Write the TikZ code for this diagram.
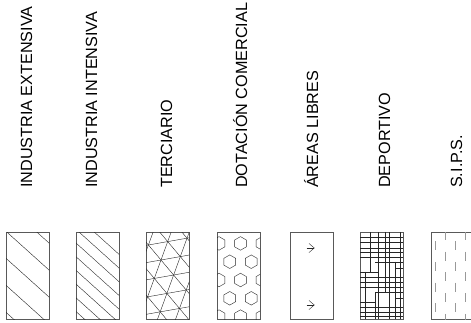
\documentclass[tikz,border=0pt]{standalone}
\usepackage{fontspec}
\setmainfont{Liberation Sans}
\usetikzlibrary{positioning}

\begin{document}
\begin{tikzpicture}[x=1pt, y=-1pt,
    legendbox/.style={rectangle, draw=black!65, line width=0.5pt, minimum width=43pt, minimum height=87pt, inner sep=0pt, anchor=north west},
    legendlabel/.style={rotate=90, anchor=base west, inner sep=0pt, font=\fontsize{16.2}{18}\selectfont},
    hatch/.style={draw=black!85, line width=0.4pt},
    dashmark/.style={draw=black!40, line width=0.6pt}]
    \useasboundingbox (0,0) rectangle (471,322);

    % legend boxes
    \node [legendbox] (ext)  at (6,232) {};
    \node [legendbox] (int)  at (76,232) {};
    \node [legendbox] (ter)  at (146,232) {};
    \node [legendbox] (com)  at (217,232) {};
    \node [legendbox] (lib)  at (290,232) {};
    \node [legendbox] (dep)  at (360,232) {};
    \node [legendbox] (sips) at (431,232) {};

    % labels
    \node [legendlabel] (ext-l)  at (32,188)  {INDUSTRIA EXTENSIVA};
    \node [legendlabel] (int-l)  at (97,188)  {INDUSTRIA INTENSIVA};
    \node [legendlabel] (ter-l)  at (172,188) {TERCIARIO};
    \node [legendlabel] (com-l)  at (247,188) {DOTACIÓN COMERCIAL};
    \node [legendlabel] (lib-l)  at (318,188) {ÁREAS LIBRES};
    \node [legendlabel] (dep-l)  at (390,188) {DEPORTIVO};
    \node [legendlabel] (sips-l) at (462,188) {S.I.P.S.};

    % industria extensiva
    \begin{scope}[shift={(ext.north west)}]
        \clip (0,0) rectangle (43,87);
        \foreach \k in {-2,...,3}
            \draw [hatch] (0,26.3+27*\k) -- ++(60,54);
    \end{scope}

    % industria intensiva
    \begin{scope}[shift={(int.north west)}]
        \clip (0,0) rectangle (43,87);
        \foreach \k in {-3,...,5}
            \draw [hatch] (0,24.7+13.7*\k) -- ++(60,54);
    \end{scope}

    % terciario
    \begin{scope}[shift={(ter.north west)}]
        \clip (0,0) rectangle (43,87);
        \foreach \m in {-6,...,6} {
            \draw [hatch] (15,28) ++(-70:19.6*\m) ++(-10:-100) -- ++(-10:200);
            \draw [hatch] (15,28) ++(-10:19.6*\m) ++(-70:-100) -- ++(-70:200);
            \draw [hatch] (15,28) ++(-10:19.6*\m) ++(-130:-100) -- ++(-130:200);
        }
    \end{scope}

    % dotacion comercial
    \begin{scope}[shift={(com.north west)}]
        \clip (0,0) rectangle (43,87);
        \foreach \r in {0,...,5}
            \foreach \c in {-1,...,2} {
                \pgfmathsetmacro\hx{2+10.75*mod(\r+1,2)+21.5*\c}
                \pgfmathsetmacro\hy{-6.9+18.3*\r}
                \draw [hatch] (\hx,\hy) +(90:6.8) -- +(150:6.8) -- +(210:6.8)
                    -- +(270:6.8) -- +(330:6.8) -- +(30:6.8) -- cycle;
            }
    \end{scope}

    % areas libres
    \begin{scope}[shift={(lib.north west)}]
        \foreach \v in {16,73} {
            \draw [hatch] (16.5,\v) -- (24.3,\v);
            \draw [hatch] (19,\v-4.5) -- (24.3,\v) -- (19,\v+4.5);
        }
    \end{scope}

    % deportivo
    \begin{scope}[shift={(dep.north west)}]
        \clip (0,0) rectangle (43,87);
        \foreach \v in {5,10,15.7,19.7,24.7,44.7,49.7,54.7,74.7,79.7,83.7}
            \draw [hatch] (0,\v) -- (43,\v);
        \draw [hatch] (15,29.7) -- (43,29.7);
        \draw [hatch] (35,35.7) -- (43,35.7);
        \draw [hatch] (0,39.7) -- (18,39.7);
        \draw [hatch] (15,60.3) -- (43,60.3);
        \draw [hatch] (35,65.7) -- (43,65.7);
        \draw [hatch] (0,69.7) -- (15,69.7);
        \draw [hatch] (5,39.7) -- (5,87);
        \draw [hatch] (10,0) -- (10,39.7);
        \draw [hatch] (15,60.3) -- (15,87);
        \draw [hatch] (18.3,0) -- (18.3,87);
        \draw [hatch] (25,0) -- (25,60.3);
        \draw [hatch] (29,0) -- (29,87);
        \draw [hatch] (35,29.7) -- (35,87);
        \draw [hatch] (40,0) -- (40,87);
    \end{scope}

    % s.i.p.s.
    \begin{scope}[shift={(sips.north west)}]
        \clip (0,0) rectangle (43,87);
        \foreach \u/\p in {4/9.3,14/19.65,24/9.3,34/19.65}
            \foreach \k in {-1,...,4}
                \draw [dashmark] (\u,\p+20.7*\k) -- ++(0,9);
    \end{scope}
\end{tikzpicture}
\end{document}
